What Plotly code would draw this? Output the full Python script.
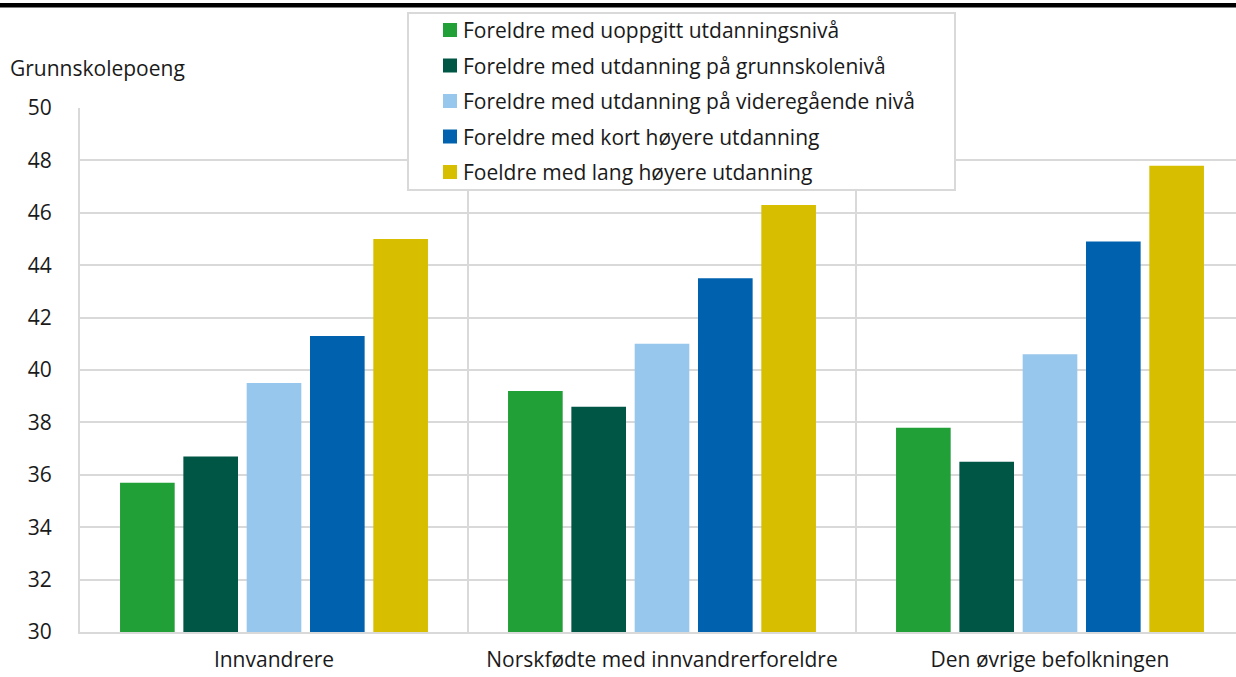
import plotly.graph_objects as go

categories = ["Innvandrere", "Norskfødte med innvandrerforeldre", "Den øvrige befolkningen"]
series_names = [
    "Foreldre med uoppgitt utdanningsnivå",
    "Foreldre med utdanning på grunnskolenivå",
    "Foreldre med utdanning på videregående nivå",
    "Foreldre med kort høyere utdanning",
    "Foeldre med lang høyere utdanning",
]
uoppgitt = [35.7, 39.2, 37.8]
grunnskole = [36.7, 38.6, 36.5]
videregaende = [39.5, 41.0, 40.6]
kort_hoyere = [41.3, 43.5, 44.9]
lang_hoyere = [45.0, 46.3, 47.8]
y_ticks = [30, 32, 34, 36, 38, 40, 42, 44, 46, 48, 50]

colors = ["#21A038", "#005645", "#97C7EC", "#0062AE", "#D7BF00"]
series_values = [uoppgitt, grunnskole, videregaende, kort_hoyere, lang_hoyere]

FONT = "Open Sans"
FS = 21
GRID = "#D9D9D9"
TXT = "#1a1a1a"

fig = go.Figure()
for name, vals, col in zip(series_names, series_values, colors):
    fig.add_trace(go.Bar(
        x=categories, y=vals, name=name, showlegend=False,
        marker=dict(color=col, line=dict(width=0)),
    ))

W, H = 1236, 677
ml, mr, mt, mb = 80, 0, 108, 45
pw = W - ml - mr
ph = H - mt - mb

def px_x(px):
    return (px - ml) / pw

def px_y(py):
    return (H - mb - py) / ph

shapes = []
for xv in [0.5, 1.5]:
    shapes.append(dict(type="line", xref="x", yref="y", x0=xv, x1=xv, y0=30, y1=50,
                       line=dict(color=GRID, width=2), layer="below"))
shapes.append(dict(type="line", xref="paper", yref="paper",
                   x0=px_x(0), x1=px_x(W), y0=px_y(5.3), y1=px_y(5.3),
                   line=dict(color="#000000", width=4.5)))

# legend box (drawn manually to match the original layout)
leg_l, leg_r, leg_t, leg_b = 408, 955, 13, 190
shapes.append(dict(type="rect", xref="paper", yref="paper",
                   x0=px_x(leg_l), x1=px_x(leg_r), y0=px_y(leg_b), y1=px_y(leg_t),
                   fillcolor="white", line=dict(color=GRID, width=2), layer="above"))
annotations = []
row0, row_step = 30, 35.5
for i, (name, col) in enumerate(zip(series_names, colors)):
    cy = row0 + i * row_step
    shapes.append(dict(type="rect", xref="paper", yref="paper",
                       x0=px_x(443), x1=px_x(457), y0=px_y(cy + 7), y1=px_y(cy - 7),
                       fillcolor=col, line=dict(width=0), layer="above"))
    annotations.append(dict(text=name, xref="paper", yref="paper",
                            x=px_x(461), y=px_y(cy), xanchor="left", yanchor="middle",
                            showarrow=False, font=dict(family=FONT, size=FS, color=TXT)))

annotations.append(dict(
    text="Grunnskolepoeng", xref="paper", yref="paper",
    x=px_x(8), y=px_y(68), xanchor="left", yanchor="middle",
    showarrow=False, font=dict(family=FONT, size=FS, color=TXT),
))

fig.update_layout(
    width=W, height=H,
    margin=dict(l=ml, r=mr, t=mt, b=mb),
    paper_bgcolor="white", plot_bgcolor="white",
    font=dict(family=FONT, size=FS, color=TXT),
    barmode="group", bargap=0.184, bargroupgap=0.137,
    showlegend=False,
    xaxis=dict(
        range=[-0.5, 2.5 - 8 / 388], showgrid=False, showline=True,
        linecolor=GRID, linewidth=2, ticks="", ticklabelstandoff=8,
        tickfont=dict(family=FONT, size=FS, color=TXT), fixedrange=True,
    ),
    yaxis=dict(
        range=[30, 50], tickvals=y_ticks, showgrid=True, gridcolor=GRID, gridwidth=2,
        showline=True, linecolor=GRID, linewidth=2, ticks="", ticklabelstandoff=22,
        zeroline=False, tickfont=dict(family=FONT, size=FS, color=TXT),
    ),
    shapes=shapes,
    annotations=annotations,
)

fig.write_html(
    "out.html",
    config={"displayModeBar": False},
    post_script="document.body.style.margin='0';document.body.style.overflow='hidden';",
)
